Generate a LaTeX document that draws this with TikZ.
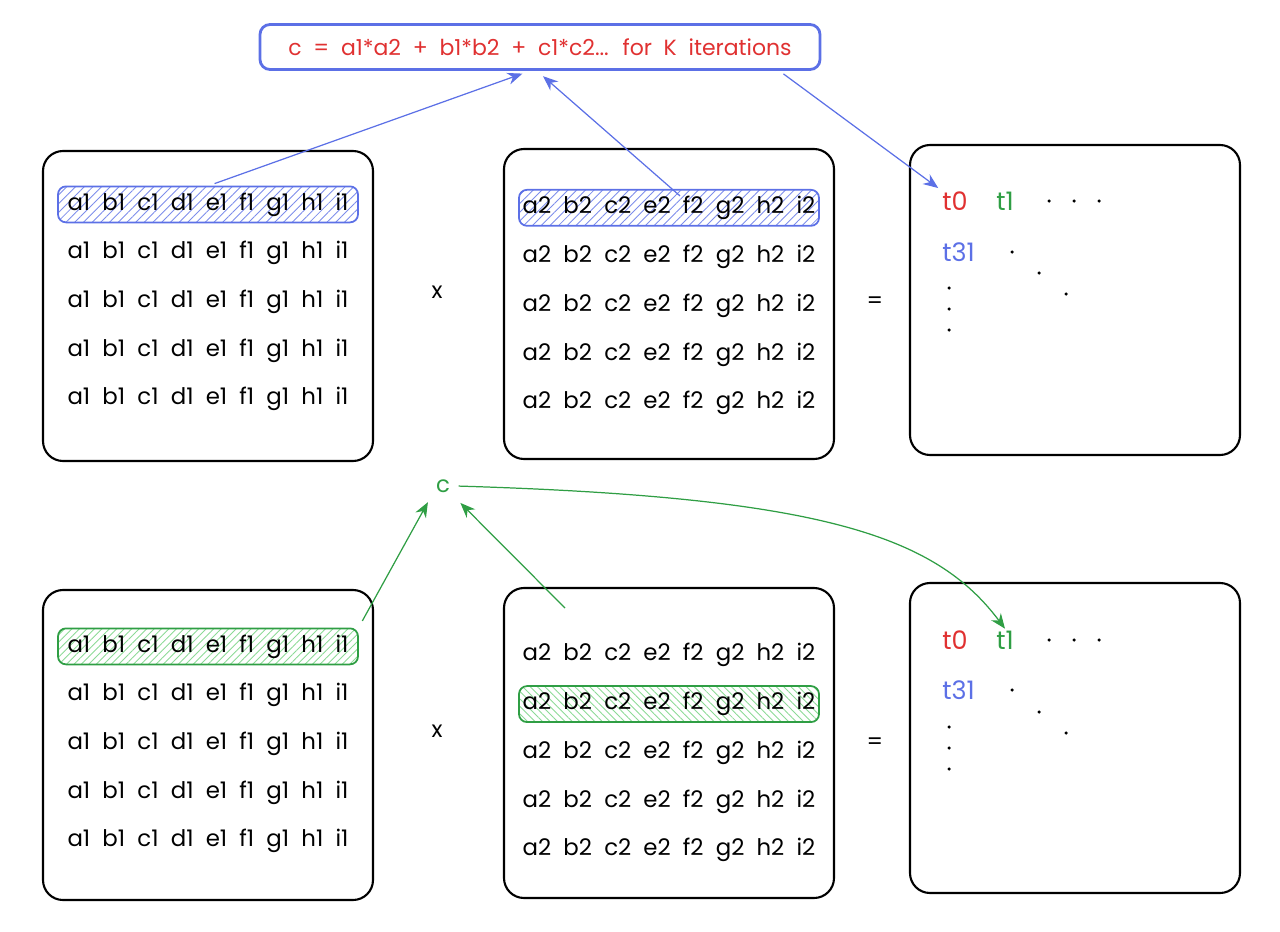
\documentclass[tikz,border=0pt]{standalone}
\usepackage{fontspec}
\setmainfont{Poppins}
\newfontfamily\sketchfont[WordSpace=2]{Poppins}
\usepackage{xcolor}
\usetikzlibrary{arrows.meta, positioning, patterns.meta, calc}
\definecolor{skblue}{RGB}{92,112,230}
\definecolor{skred}{RGB}{224,49,49}
\definecolor{skgreen}{RGB}{47,158,68}
\definecolor{hatchgreen}{RGB}{140,218,150}
\tikzset{
  matbox/.style={rectangle, rounded corners=4mm, draw=black, line width=1.2pt,
    minimum width=66mm, minimum height=62mm},
  rowtext/.style={rectangle, inner sep=0pt, minimum width=60mm, minimum height=7.2mm,
    font=\sketchfont\fontsize{13}{15}\selectfont},
  bluerow/.style={rowtext, rounded corners=1.6mm, draw=skblue, line width=1pt,
    pattern={Lines[angle=45, distance=3.5pt, line width=0.5pt]}, pattern color=skblue!80},
  greenrow/.style={rowtext, rounded corners=1.6mm, draw=skgreen, line width=1pt,
    pattern={Lines[angle=45, distance=3pt, line width=0.5pt]}, pattern color=hatchgreen},
  greenrowb/.style={greenrow, pattern={Lines[angle=-45, distance=3pt, line width=0.5pt]}},
  formbox/.style={rectangle, rounded corners=2mm, draw=skblue, line width=1.6pt,
    minimum width=112mm, minimum height=9mm, text=skred,
    font=\sketchfont\fontsize{12.5}{15}\selectfont},
  tlabel/.style={inner sep=1pt, font=\fontsize{14.5}{17}\selectfont},
  sign/.style={font=\fontsize{13}{15}\selectfont},
  bluearrow/.style={-{Stealth[length=3mm, width=2.4mm]}, line width=0.7pt, skblue},
  greenarrow/.style={-{Stealth[length=3mm, width=2.4mm]}, line width=0.7pt, skgreen}
}
\begin{document}
\begin{tikzpicture}[x=0.2mm, y=0.2mm, node distance=2.4mm]
  \useasboundingbox (0,0) rectangle (1280,-932);
  \node[formbox] (formula) at (540,-47) {c = a1*a2 + b1*b2 + c1*c2... for K iterations};

  \node[matbox] (matAtop) at (208,-306) {};
  \node[bluerow, below=7.2mm of matAtop.north] (aTop1) {a1 b1 c1 d1 e1 f1 g1 h1 i1};
  \node[rowtext, below=of aTop1] (aTop2) {a1 b1 c1 d1 e1 f1 g1 h1 i1};
  \node[rowtext, below=of aTop2] (aTop3) {a1 b1 c1 d1 e1 f1 g1 h1 i1};
  \node[rowtext, below=of aTop3] (aTop4) {a1 b1 c1 d1 e1 f1 g1 h1 i1};
  \node[rowtext, below=of aTop4] (aTop5) {a1 b1 c1 d1 e1 f1 g1 h1 i1};

  \node[matbox] (matBtop) at (669,-304) {};
  \node[bluerow, below=8.2mm of matBtop.north] (bTop1) {a2 b2 c2 e2 f2 g2 h2 i2};
  \node[rowtext, below=of bTop1] (bTop2) {a2 b2 c2 e2 f2 g2 h2 i2};
  \node[rowtext, below=of bTop2] (bTop3) {a2 b2 c2 e2 f2 g2 h2 i2};
  \node[rowtext, below=of bTop3] (bTop4) {a2 b2 c2 e2 f2 g2 h2 i2};
  \node[rowtext, below=of bTop4] (bTop5) {a2 b2 c2 e2 f2 g2 h2 i2};

  \node[matbox] (matCtop) at (1075,-300) {};
  \node[tlabel, text=skred] (t0top) at (955,-201) {t0};
  \node[tlabel, text=skgreen] (t1top) at ([xshift=10mm]t0top) {t1};
  \node[tlabel, text=skblue, anchor=west] (t31top) at ([yshift=-10.2mm]t0top.west) {t31};
  \foreach \dx/\dy in {94/0, 119/0, 144/0, 57/-51, 84/-72, 111/-93, -6/-87, -6/-108, -6/-129}
    \fill ($(t0top)+(\dx,\dy)$) circle (0.35mm);

  \node[sign] (timestop) at (437,-292) {x};
  \node[sign] (equalstop) at (875,-303) {=};

  \node[matbox] (matAbot) at (208,-745) {};
  \node[greenrow, below=7.8mm of matAbot.north] (aBot1) {a1 b1 c1 d1 e1 f1 g1 h1 i1};
  \node[rowtext, below=of aBot1] (aBot2) {a1 b1 c1 d1 e1 f1 g1 h1 i1};
  \node[rowtext, below=of aBot2] (aBot3) {a1 b1 c1 d1 e1 f1 g1 h1 i1};
  \node[rowtext, below=of aBot3] (aBot4) {a1 b1 c1 d1 e1 f1 g1 h1 i1};
  \node[rowtext, below=of aBot4] (aBot5) {a1 b1 c1 d1 e1 f1 g1 h1 i1};

  \node[matbox] (matBbot) at (669,-743) {};
  \node[rowtext, below=10mm of matBbot.north] (bBot1) {a2 b2 c2 e2 f2 g2 h2 i2};
  \node[greenrowb, below=of bBot1] (bBot2) {a2 b2 c2 e2 f2 g2 h2 i2};
  \node[rowtext, below=of bBot2] (bBot3) {a2 b2 c2 e2 f2 g2 h2 i2};
  \node[rowtext, below=of bBot3] (bBot4) {a2 b2 c2 e2 f2 g2 h2 i2};
  \node[rowtext, below=of bBot4] (bBot5) {a2 b2 c2 e2 f2 g2 h2 i2};

  \node[matbox] (matCbot) at (1075,-738) {};
  \node[tlabel, text=skred] (t0bot) at (955,-640) {t0};
  \node[tlabel, text=skgreen] (t1bot) at ([xshift=10mm]t0bot) {t1};
  \node[tlabel, text=skblue, anchor=west] (t31bot) at ([yshift=-10mm]t0bot.west) {t31};
  \foreach \dx/\dy in {94/0, 119/0, 144/0, 57/-50, 84/-72, 111/-93, -6/-87, -6/-108, -6/-129}
    \fill ($(t0bot)+(\dx,\dy)$) circle (0.35mm);

  \node[sign] (timesbot) at (437,-731) {x};
  \node[sign] (equalsbot) at (875,-744) {=};

  \node[sign, text=skgreen] (csum) at (443,-486) {c};
  \coordinate (bsrc) at (565,-608);

  \draw[bluearrow, shorten <=1.4mm, shorten >=1.6mm] (aTop1.north) -- ([xshift=-2mm]formula.south);
  \draw[bluearrow, shorten >=1.6mm] ([xshift=2.2mm,yshift=-1.4mm]bTop1.north) -- ([xshift=-0.6mm]formula.south);
  \draw[bluearrow, shorten <=1mm, shorten >=0.5mm] ([xshift=-8.4mm]formula.south east) -- (t0top.north west);
  \draw[greenarrow, shorten <=1.6mm, shorten >=0.8mm] (aBot1.north east) -- (csum.south west);
  \draw[greenarrow, shorten >=1.2mm] (bsrc) -- (csum.south east);
  \draw[greenarrow, shorten <=0.5mm] (csum.east) .. controls (820,-497) and (935,-535) .. (t1bot.north);
\end{tikzpicture}
\end{document}
